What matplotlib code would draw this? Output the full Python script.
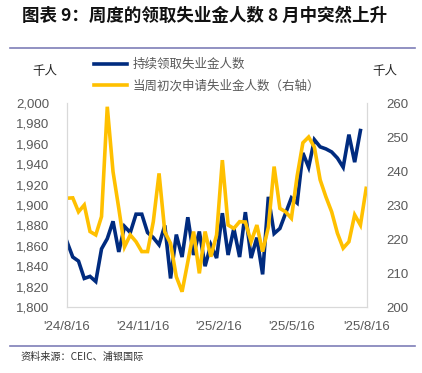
import matplotlib
matplotlib.use("Agg")
import matplotlib.pyplot as plt
import numpy as np
import pandas as pd
from matplotlib.lines import Line2D

plt.rcParams['font.family'] = ['Noto Sans CJK SC', 'DejaVu Sans']

TITLE = "图表 9：周度的领取失业金人数 8 月中突然上升"
SOURCE = "资料来源：CEIC、浦银国际"
BLUE_LABEL = "持续领取失业金人数"
YELLOW_LABEL = "当周初次申请失业金人数（右轴）"
UNIT = "千人"

# weekly dates
yellow_dates = pd.date_range("2024-08-16", periods=53, freq="7D")
blue_dates = yellow_dates[:52]

continuing = [1864, 1849, 1845, 1828, 1830, 1825, 1857, 1867, 1884, 1854,
              1879, 1873, 1891, 1891, 1873, 1868, 1861, 1880, 1828, 1871,
              1849, 1888, 1851, 1874, 1840, 1861, 1848, 1892, 1851, 1877,
              1849, 1893, 1848, 1868, 1832, 1908, 1872, 1877, 1892, 1907,
              1902, 1951, 1937, 1964, 1957, 1955, 1952, 1946, 1937, 1969,
              1942, 1973]

initial = [232.0, 232.1, 228.0, 230.0, 222.2, 221.2, 226.6, 258.9, 239.8, 229.0,
           217.7, 221.2, 219.2, 216.3, 216.3, 225.1, 239.3, 222.1, 218.7, 208.9,
           204.5, 213.3, 222.2, 209.9, 222.2, 214.8, 221.2, 243.2, 224.1, 223.1,
           225.1, 225.0, 219.2, 224.1, 216.3, 223.5, 241.3, 229.0, 228.0, 226.1,
           238.5, 248.3, 250.0, 247.0, 237.4, 232.4, 228.0, 221.7, 217.3, 219.2,
           227.1, 224.1, 234.9]

tick_dates = pd.to_datetime(["2024-08-16", "2024-11-16", "2025-02-16", "2025-05-16", "2025-08-16"])
tick_labels = ["'24/8/16", "'24/11/16", "'25/2/16", "'25/5/16", "'25/8/16"]

left_ticks = list(range(1800, 2001, 20))
right_ticks = list(range(200, 261, 10))

color_blue = '#002B7F'
color_yellow = '#FFC000'
grey = '#595959'
spine_c = '#D9D9D9'
rule_c = '#7E7EB8'

fig = plt.figure(figsize=(4.22, 3.73), dpi=100)
ax = fig.add_axes([67 / 422, 1 - 307 / 373, 300 / 422, 204 / 373])
ax2 = ax.twinx()

ax.plot(blue_dates, continuing, color=color_blue, linewidth=2.6, solid_joinstyle='miter')
ax2.plot(yellow_dates, initial, color=color_yellow, linewidth=2.6, solid_joinstyle='miter')

ax.set_xlim(tick_dates[0], tick_dates[-1])
ax.set_ylim(1800, 2000)
ax2.set_ylim(200, 260)
ax.set_yticks(left_ticks)
ax.set_yticklabels([f"{v:,}" for v in left_ticks])
ax2.set_yticks(right_ticks)
ax.set_xticks(tick_dates)
ax.set_xticklabels(tick_labels)

for a in (ax, ax2):
    a.tick_params(length=0, labelsize=9.5, labelcolor=grey)
    for lab in a.get_xticklabels() + a.get_yticklabels():
        lab.set_family('Liberation Sans')
    a.spines['top'].set_visible(False)
    for s in ('left', 'right', 'bottom'):
        a.spines[s].set_color(spine_c)
        a.spines[s].set_linewidth(0.8)
ax.tick_params(axis='y', pad=13)
ax2.tick_params(axis='y', pad=14)
ax.tick_params(axis='x', pad=10)

# units
fig.text(45 / 422, 1 - 71 / 373, UNIT, ha='center', va='center', fontsize=9, color='#222222')
fig.text(385 / 422, 1 - 72 / 373, UNIT, ha='center', va='center', fontsize=9, color='#222222')

# legend
handles = [Line2D([], [], color=color_blue, linewidth=2.6),
           Line2D([], [], color=color_yellow, linewidth=2.6)]
fig.legend(handles, [BLUE_LABEL, YELLOW_LABEL], loc='upper left',
           bbox_to_anchor=(94 / 422, 1 - 58 / 373), frameon=False, fontsize=9,
           labelcolor=grey, handlelength=2.6, handletextpad=0.5, labelspacing=0.65,
           borderaxespad=0, borderpad=0)

# title, rules, source
fig.text(22 / 422, 1 - 16 / 373, TITLE, ha='left', va='center', fontsize=12.6,
         fontweight='bold', color='#111111')
fig.add_artist(Line2D([10 / 422, 415 / 422], [1 - 48 / 373, 1 - 48 / 373], color=rule_c, linewidth=1.2))
fig.add_artist(Line2D([10 / 422, 415 / 422], [1 - 346 / 373, 1 - 346 / 373], color=rule_c, linewidth=1.2))
fig.text(20 / 422, 1 - 357 / 373, SOURCE, ha='left', va='center', fontsize=7.3, color='#333333')

fig.savefig("out.png", dpi=100)
